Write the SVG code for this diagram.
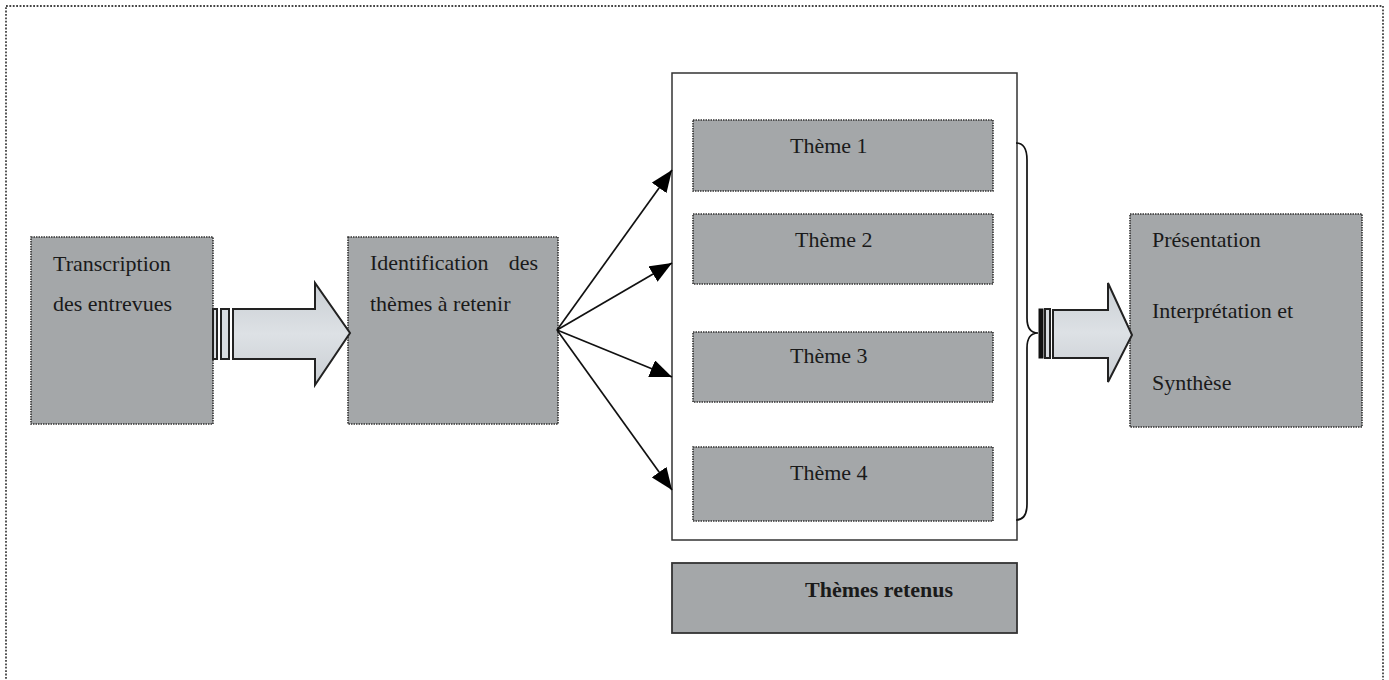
<svg xmlns="http://www.w3.org/2000/svg" width="1389" height="680" viewBox="0 0 1389 680">
<style>
.box{fill:#a4a7a9;stroke:#333;stroke-width:1.6;stroke-dasharray:1.5 1}
.t{font-family:"Liberation Serif","Times New Roman",serif;font-size:22px;fill:#1a1a1a}
.b{font-weight:bold}
.blk{fill:url(#ag);stroke:#222;stroke-width:2}
.bar{fill:#d8dce0;stroke:#222;stroke-width:2}
.ln{stroke:#111;stroke-width:1.7;fill:none}
</style>
<defs>
<linearGradient id="ag" x1="0" y1="0" x2="0" y2="1">
<stop offset="0" stop-color="#c9ced3"/><stop offset="0.5" stop-color="#dde1e5"/><stop offset="1" stop-color="#c9ced3"/>
</linearGradient>
<marker id="ahb" viewBox="0 0 22 18" refX="22" refY="9" markerWidth="22" markerHeight="18" markerUnits="userSpaceOnUse" orient="auto">
<path d="M0,0 L22,9 L0,18 z" fill="#000"/>
</marker>
</defs>
<rect x="6" y="6" width="1377" height="690" fill="none" stroke="#444" stroke-width="1.8" stroke-dasharray="1.8 1.6"/>

<g id="transcription">
<rect class="box" x="31" y="237" width="182" height="187"/>
<text class="t" x="53" y="271">Transcription</text>
<text class="t" x="53" y="311">des entrevues</text>
</g>

<g id="identification">
<rect class="box" x="348" y="237" width="210" height="187"/>
<text class="t" x="370" y="270">Identification</text>
<text class="t" x="538" y="270" text-anchor="end">des</text>
<text class="t" x="370" y="311">thèmes à retenir</text>
</g>

<g id="container">
<rect x="672" y="73" width="345" height="467" fill="#fff" stroke="#333" stroke-width="1.5"/>
</g>

<g id="theme1">
<rect class="box" x="693" y="120" width="300" height="71"/>
<text class="t" x="790" y="153">Thème 1</text>
</g>
<g id="theme2">
<rect class="box" x="693" y="214" width="300" height="70"/>
<text class="t" x="795" y="247">Thème 2</text>
</g>
<g id="theme3">
<rect class="box" x="693" y="332" width="300" height="70"/>
<text class="t" x="790" y="363">Thème 3</text>
</g>
<g id="theme4">
<rect class="box" x="693" y="447" width="300" height="74"/>
<text class="t" x="790" y="480">Thème 4</text>
</g>

<g id="themes-retenus">
<rect x="672" y="563" width="345" height="70" fill="#a4a7a9" stroke="#333" stroke-width="1.8"/>
<text class="t b" x="805" y="597">Thèmes retenus</text>
</g>

<g id="presentation">
<rect class="box" x="1130" y="214" width="232" height="213"/>
<text class="t" x="1152" y="247">Présentation</text>
<text class="t" x="1152" y="318">Interprétation et</text>
<text class="t" x="1152" y="390">Synthèse</text>
</g>

<g id="connectors">
<rect class="bar" x="213" y="309" width="4" height="50"/>
<rect class="bar" x="221" y="309" width="8" height="50"/>
<path class="blk" d="M233,309 L315,309 L315,283 L350,333 L315,385 L315,359 L233,359 z"/>

<line class="ln" x1="557" y1="330" x2="672" y2="170" marker-end="url(#ahb)"/>
<line class="ln" x1="557" y1="330" x2="672" y2="263" marker-end="url(#ahb)"/>
<line class="ln" x1="557" y1="330" x2="672" y2="377" marker-end="url(#ahb)"/>
<line class="ln" x1="557" y1="330" x2="672" y2="490" marker-end="url(#ahb)"/>

<path class="ln" d="M1016,143 Q1027,143 1027,160 L1027,318 Q1027,333 1038,333 Q1027,333 1027,348 L1027,504 Q1027,520 1016,520"/>

<rect x="1039" y="309" width="4" height="49" fill="#111" stroke="#111" stroke-width="1"/>
<rect class="bar" x="1045" y="309" width="5" height="49"/>
<path class="blk" d="M1053,310 L1108,310 L1108,283 L1132,335 L1108,382 L1108,358 L1053,358 z"/>
</g>
</svg>
